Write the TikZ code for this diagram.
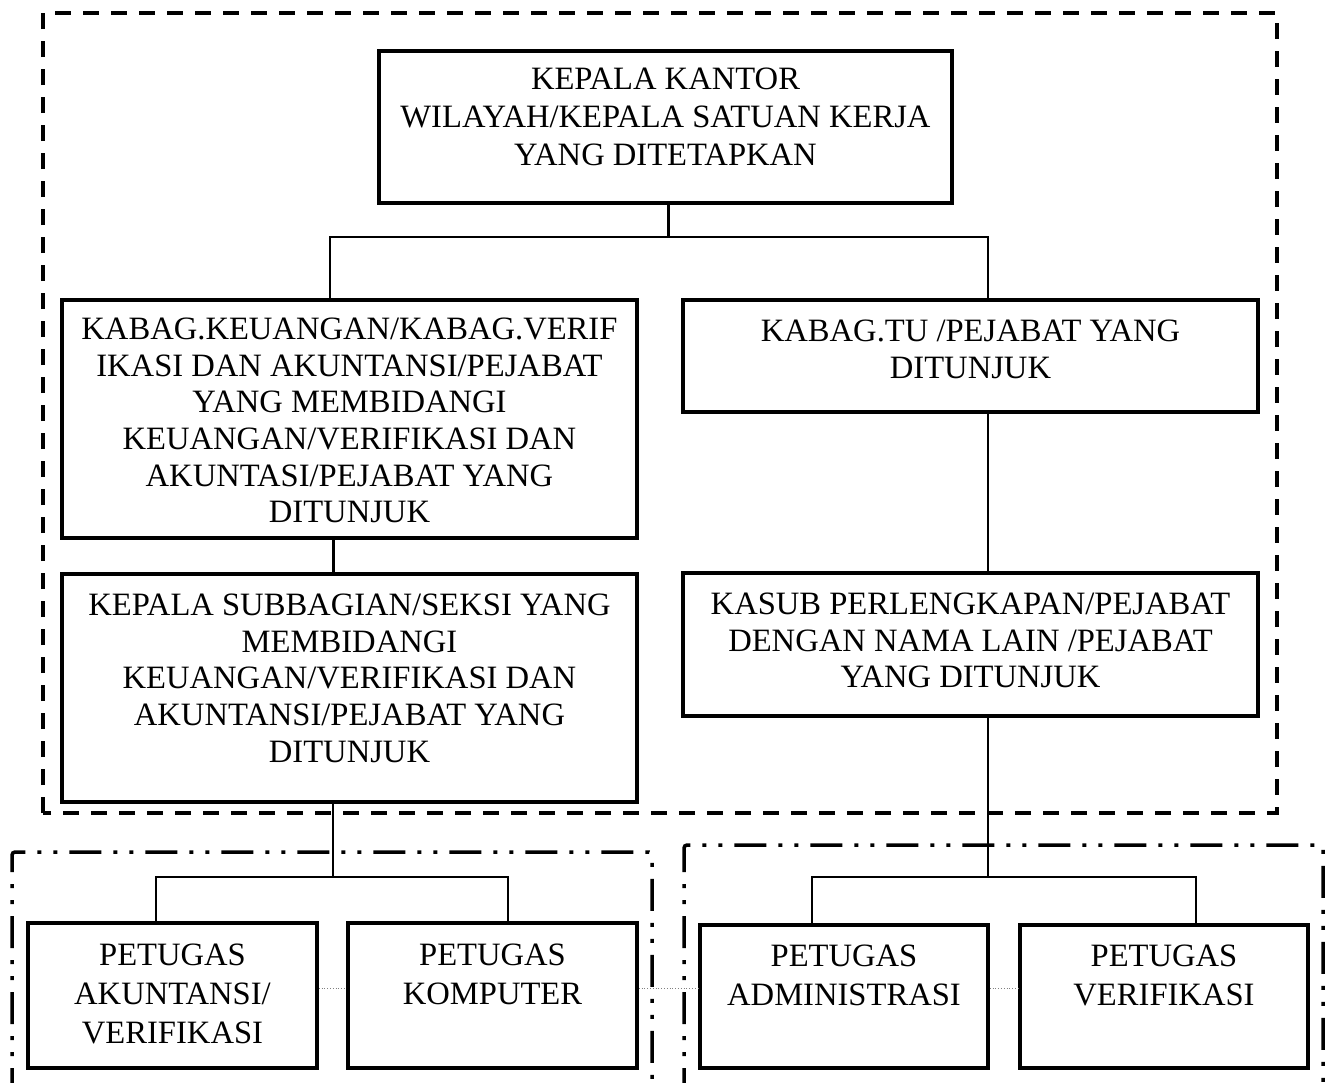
\documentclass[tikz,border=0pt]{standalone}
\usepackage{fontspec}
\setmainfont{Liberation Serif}
\begin{document}
\begin{tikzpicture}[x=1pt,y=-1pt,
  box/.style={draw,line width=3.5pt,inner sep=0pt},
  txt/.style={align=center,inner sep=0pt,anchor=north,font=\fontsize{32.6}{36.6}\selectfont},
  thin/.style={line width=1.3pt},
  thick/.style={line width=3pt},
  dotline/.style={line width=0.8pt,gray,dotted},
  outerdash/.style={line width=3.5pt,dash pattern=on 16pt off 12pt},
  dashdotdot/.style={line width=3.5pt,dash pattern=on 32pt off 12pt on 4pt off 12pt on 4pt off 12pt,rounded corners=3pt}]
\useasboundingbox (0,0) rectangle (1332,1082);
% outer dashed frame
\draw[outerdash] (43,813) -- (43,13) -- (1277,13) -- (1277,813) -- cycle;
% bottom dash-dot-dot frames
\draw[dashdotdot] (12,1100) -- (12,852) -- (652,852) -- (652,1100);
\draw[dashdotdot] (684,1100) -- (684,845) -- (1323,845) -- (1323,1100);
% boxes
\node[box,minimum width=573pt,minimum height=152pt] (top) at (665.5,127) {};
\node[box,minimum width=575pt,minimum height=238pt] (kab) at (349.5,419) {};
\node[box,minimum width=575pt,minimum height=112pt] (tu) at (970.5,356) {};
\node[box,minimum width=575pt,minimum height=228pt] (sub) at (349.5,688) {};
\node[box,minimum width=575pt,minimum height=143pt] (kasub) at (970.5,644.5) {};
\node[box,minimum width=289pt,minimum height=145pt] (akun) at (172.5,995.5) {};
\node[box,minimum width=289pt,minimum height=145pt] (komp) at (492.5,995.5) {};
\node[box,minimum width=288pt,minimum height=143pt] (adm) at (844,996.5) {};
\node[box,minimum width=288pt,minimum height=143pt] (ver) at (1164,996.5) {};
% texts
\node[txt,font=\fontsize{32.6}{38}\selectfont] at (665.5,68) {KEPALA KANTOR\\WILAYAH/KEPALA SATUAN KERJA\\YANG DITETAPKAN};
\node[txt] at (349.5,318) {KABAG.KEUANGAN/KABAG.VERIF\\IKASI DAN AKUNTANSI/PEJABAT\\YANG MEMBIDANGI\\KEUANGAN/VERIFIKASI DAN\\AKUNTASI/PEJABAT YANG\\DITUNJUK};
\node[txt] at (970.5,320) {KABAG.TU /PEJABAT YANG\\DITUNJUK};
\node[txt] at (349.5,594) {KEPALA SUBBAGIAN/SEKSI YANG\\MEMBIDANGI\\KEUANGAN/VERIFIKASI DAN\\AKUNTANSI/PEJABAT YANG\\DITUNJUK};
\node[txt] at (970.5,593) {KASUB PERLENGKAPAN/PEJABAT\\DENGAN NAMA LAIN /PEJABAT\\YANG DITUNJUK};
\node[txt,font=\fontsize{32.6}{39}\selectfont] at (172.5,944) {PETUGAS\\AKUNTANSI/\\VERIFIKASI};
\node[txt,font=\fontsize{32.6}{39}\selectfont] at (492.5,944) {PETUGAS\\KOMPUTER};
\node[txt,font=\fontsize{32.6}{39}\selectfont] at (844,945) {PETUGAS\\ADMINISTRASI};
\node[txt,font=\fontsize{32.6}{39}\selectfont] at (1164,945) {PETUGAS\\VERIFIKASI};
% connectors
\coordinate (j1) at (668,237);
\draw[thick] (top.south -| j1) -- (j1);
\draw[thin] (kab.north -| 330,0) -- (330,237) -- (988,237) -- (tu.north -| 988,0);
\draw[thick] (kab.south -| 333,0) -- (sub.north -| 333,0);
\draw[thin] (tu.south -| 988,0) -- (kasub.north -| 988,0);
\draw[thin] (sub.south -| 333,0) -- (333,877);
\draw[thin] (akun.north -| 156,0) -- (156,877) -- (508,877) -- (komp.north -| 508,0);
\draw[thin] (kasub.south -| 988,0) -- (988,877);
\draw[thin] (adm.north -| 812,0) -- (812,877) -- (1196,877) -- (ver.north -| 1196,0);
% dotted links
\draw[dotline] (akun.east |- 0,988) -- (komp.west |- 0,988);
\draw[dotline] (komp.east |- 0,988) -- (adm.west |- 0,988);
\draw[dotline] (adm.east |- 0,988) -- (ver.west |- 0,988);
\end{tikzpicture}
\end{document}
